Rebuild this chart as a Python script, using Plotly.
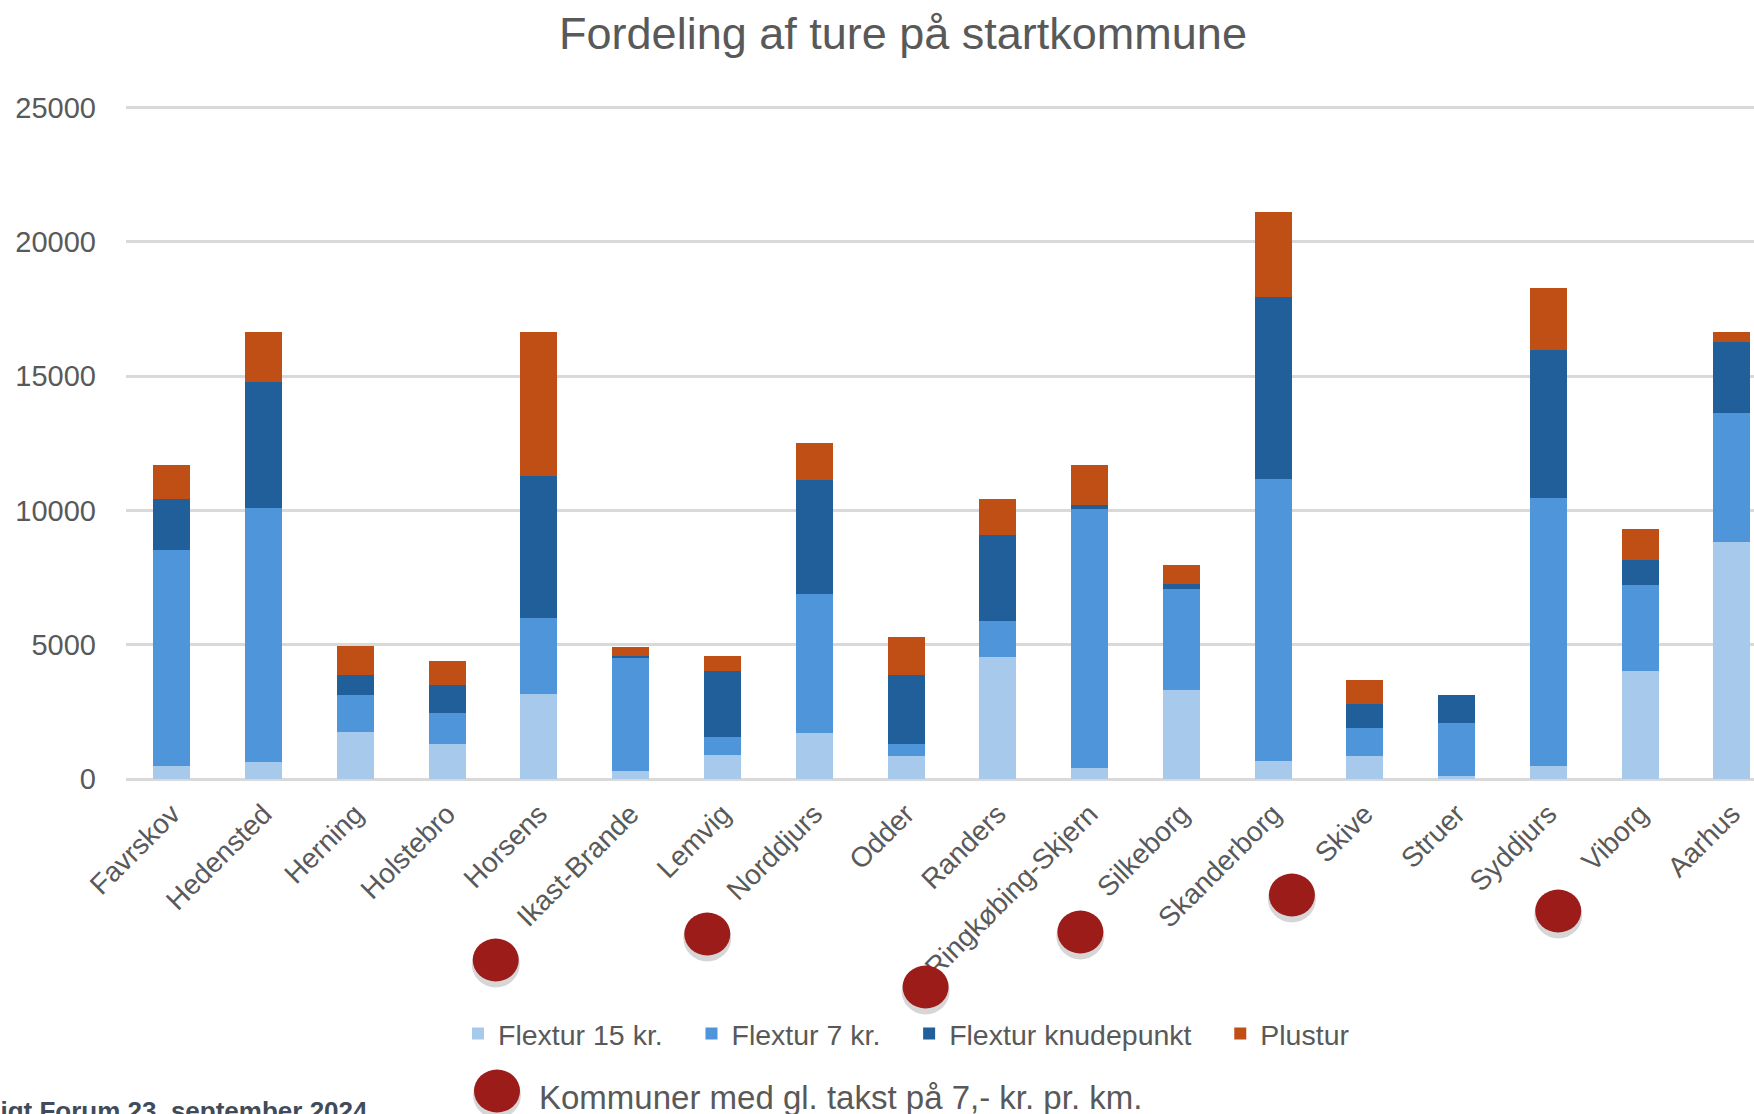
import plotly.graph_objects as go

# ---------------- data ----------------
kommuner = ["Favrskov", "Hedensted", "Herning", "Holstebro", "Horsens", "Ikast-Brande",
            "Lemvig", "Norddjurs", "Odder", "Randers", "Ringkøbing-Skjern", "Silkeborg",
            "Skanderborg", "Skive", "Struer", "Syddjurs", "Viborg", "Aarhus"]

flextur_15 = [490, 620, 1760, 1310, 3180, 300, 880, 1710, 870, 4530, 420, 3310, 680, 870, 100, 480, 4010, 8810]
flextur_7 = [8020, 9470, 1350, 1160, 2810, 4230, 690, 5180, 440, 1340, 9650, 3760, 10490, 1030, 1980, 9980, 3200, 4820]
flextur_knude = [1930, 4680, 760, 1030, 5310, 60, 2440, 4230, 2560, 3200, 130, 200, 6790, 890, 1030, 5510, 950, 2660]
plustur = [1270, 1860, 1100, 890, 5330, 320, 570, 1400, 1420, 1350, 1480, 710, 3150, 900, 0, 2310, 1160, 370]

series_names = ["Flextur 15 kr.", "Flextur 7 kr.", "Flextur knudepunkt", "Plustur"]
y_ticks = [0, 5000, 10000, 15000, 20000, 25000]

# municipalities marked with a red dot (old rate of 7 kr. per km)
marked = ["Ikast-Brande", "Norddjurs", "Ringkøbing-Skjern", "Silkeborg", "Skive", "Viborg"]

# ---------------- styling / layout ----------------
W, H = 1754, 1114
M_L, M_R, M_T, M_B = 126, 0, 106, 335
PW = W - M_L - M_R
PH = H - M_T - M_B

colors = ["#A6C9EC", "#4E95D9", "#215F9A", "#C04F15"]
FONT = "Liberation Sans, Arial, sans-serif"
GRAY = "#595959"
RED = "#9C1C1A"
PAD = "\u00a0\u00a0\u00a0"

def px_to_paper_x(px):
    return (px - M_L) / PW

def px_to_paper_y(py):
    return (H - M_B - py) / PH

fig = go.Figure()
for name, vals, col in zip(series_names, [flextur_15, flextur_7, flextur_knude, plustur], colors):
    fig.add_trace(go.Bar(x=kommuner, y=vals, name=name + PAD,
                         marker=dict(color=col, line=dict(width=0))))

# decoration: red dot placement (pixel offsets relative to category / page)
dot_offsets = {  # dx (px from category centre), y (page px)
    "Ikast-Brande": (-135, 960),
    "Norddjurs": (-107, 934),
    "Ringkøbing-Skjern": (-164, 987),
    "Silkeborg": (-101, 932),
    "Skive": (-73, 895),
    "Viborg": (-82, 911),
}
shapes = []
RX, RY = 23, 21.5

def dot(xanchor, xref, dx, py):
    yp = px_to_paper_y(py)
    shapes.append(dict(type="circle", xref=xref, yref="paper", xsizemode="pixel", ysizemode="pixel",
                       xanchor=xanchor, yanchor=yp, x0=dx - RX - 1, x1=dx + RX + 1,
                       y0=-RY - 6, y1=RY - 2, fillcolor="rgba(0,0,0,0.16)", line=dict(width=0),
                       layer="above"))
    shapes.append(dict(type="circle", xref=xref, yref="paper", xsizemode="pixel", ysizemode="pixel",
                       xanchor=xanchor, yanchor=yp, x0=dx - RX, x1=dx + RX,
                       y0=-RY, y1=RY, fillcolor=RED, line=dict(width=0), layer="above"))

for k in marked:
    dx, py = dot_offsets[k]
    dot(kommuner.index(k), "x", dx, py)

# legend dot
dot(px_to_paper_x(497), "paper", 0, 1091)

annotations = [
    dict(text="Kommuner med gl. takst på 7,- kr. pr. km.", xref="paper", yref="paper",
         x=px_to_paper_x(537), y=px_to_paper_y(1097), xanchor="left", yanchor="middle",
         showarrow=False, font=dict(family=FONT, size=33, color=GRAY)),
    dict(text="<b>Fagligt Forum 23. september 2024</b>", xref="paper", yref="paper",
         x=px_to_paper_x(370), y=px_to_paper_y(1111), xanchor="right", yanchor="middle",
         showarrow=False, font=dict(family=FONT, size=26, color="#414B59")),
]

fig.update_layout(
    width=W, height=H,
    margin=dict(l=M_L, r=M_R, t=M_T, b=M_B, pad=0),
    paper_bgcolor="white", plot_bgcolor="white",
    barmode="stack", bargap=0.597,
    font=dict(family=FONT, color=GRAY),
    title=dict(text="Fordeling af ture på startkommune", xref="paper", x=px_to_paper_x(903),
               xanchor="center", yref="container", y=1 - 33 / H, yanchor="middle",
               font=dict(family=FONT, size=45, color=GRAY)),
    xaxis=dict(range=[-0.5, 17.24], tickangle=-45, tickfont=dict(size=28, color=GRAY),
               showgrid=False, showline=False, ticks="", zeroline=False,
               ticklabelstandoff=12),
    yaxis=dict(range=[0, 25060], tickvals=y_ticks, tickformat="d",
               tickfont=dict(size=29, color=GRAY),
               showgrid=True, gridcolor="#D9D9D9", gridwidth=2.5, zeroline=True,
               zerolinecolor="#D9D9D9", zerolinewidth=2.5, showline=False, ticks="",
               ticklabelstandoff=29),
    legend=dict(orientation="h", x=px_to_paper_x(458), xanchor="left",
                y=px_to_paper_y(1034), yanchor="middle", font=dict(size=28.5, color=GRAY),
                traceorder="normal", itemclick=False, bgcolor="rgba(0,0,0,0)"),
    shapes=shapes,
    annotations=annotations,
)

fig.write_html("out.html", config={"displayModeBar": False},
               post_script="document.body.style.margin='0';document.body.style.overflow='hidden';")
